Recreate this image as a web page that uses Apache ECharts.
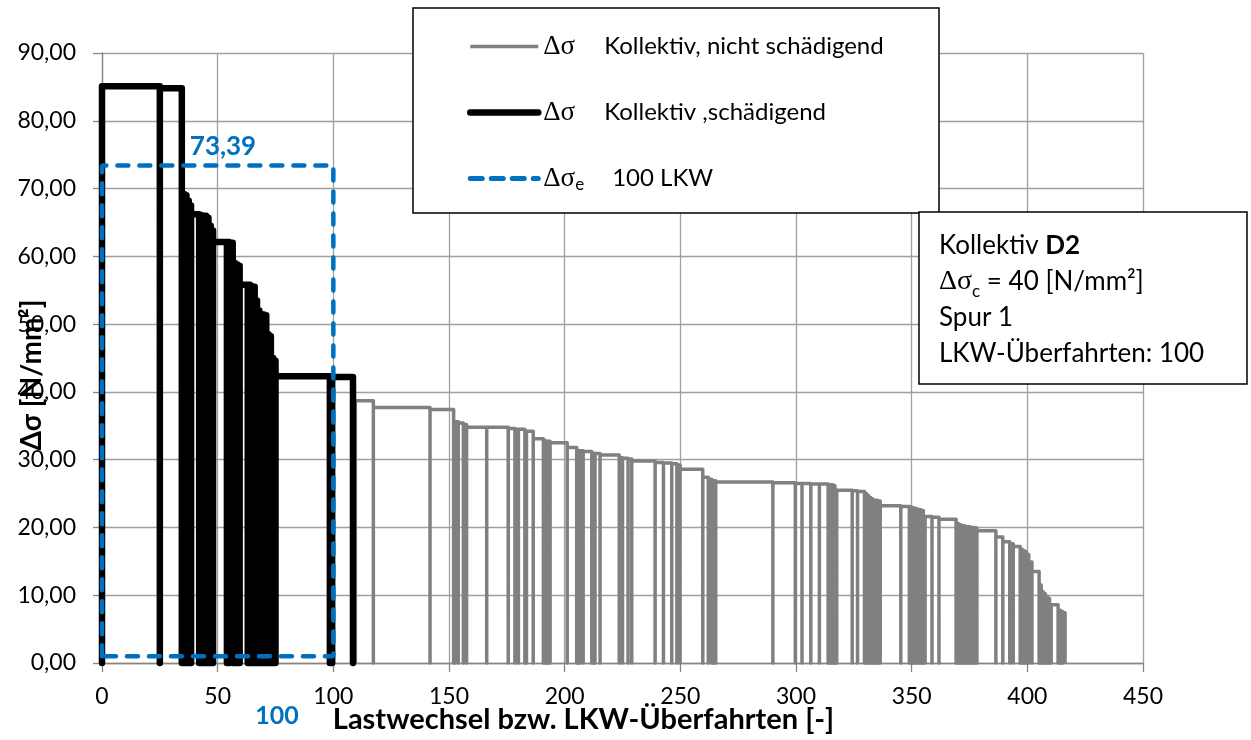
<!DOCTYPE html>
<html>
<head>
<meta charset="utf-8">
<script src="https://cdn.jsdelivr.net/npm/echarts@6/dist/echarts.min.js"></script>
<style>
html,body{margin:0;padding:0;background:#fff;}
#main{width:1251px;height:740px;}
</style>
</head>
<body>
<div id="main"></div>
<script>
// ---- Data ----
// Black collective ("schädigend"): cycle edges along x and Δσ value of each cycle
const blackEdges = [0, 25, 34.5, 35.5, 36.5, 37.5, 38.5, 42, 43, 44, 45, 46, 47, 48, 54, 55, 56.5, 57.5, 58.5, 59.5,
  63, 64, 65, 66, 67, 68, 69, 70, 71, 72, 73, 74, 75, 98.5, 99.5, 108.5];
const blackValues = [85.1, 84.8, 69.2, 69.0, 68.2, 67.5, 66.2, 66.1, 66.0, 66.0, 65.7, 64.5, 63.8, 62.1, 62.1, 62.0, 59.0, 58.8, 58.6,
  55.8, 55.8, 55.6, 55.5, 53.5, 52.0, 51.5, 51.4, 51.3, 48.5, 48.2, 45.0, 44.6, 42.3, 42.2, 42.2];

// Grey collective ("nicht schädigend")
const greyEdges = [109.5, 117.3, 141.8, 152, 152.6, 154, 156.2, 157.6, 166.3, 175.6, 178.5, 180, 182.8, 183.5, 186.4,
  190.8, 191.2, 191.9, 192.6, 193.7, 201.1, 205.2, 205.9, 206.7, 208, 211.7, 212.4, 213.1, 215.3, 223.6, 225, 227.4,
  229, 239.1, 242.7, 246.3, 248.5, 249.9, 259.7, 262.1, 263.6, 264.3, 265.3, 290, 299.7, 302.6, 306.4, 310.1, 313.9,
  314.9, 315.9, 316.8, 317.6, 324.3, 326.6, 329.6, 330.5, 331.4, 332.3, 333.3, 334.3, 335.3, 336.4, 345.3, 349, 350,
  351, 352, 353, 354, 355, 355.8, 358.8, 361.8, 369.2, 370.2, 371.2, 372.2, 373.2, 374.2, 375.2, 376.2, 377.2, 378.2,
  386.4, 389.4, 392.4, 393.9, 396.9, 397.8, 398.7, 399.6, 400.6, 402, 405.1, 406, 406.9, 407.8, 408.7, 409.6, 410.3,
  413.3, 414.3, 415.3, 416.3];
const greyValues = [38.7, 37.7, 37.4, 35.7, 35.6, 35.4, 35.2, 34.8, 34.8, 34.6, 34.5, 34.5, 34.4, 34.2, 33.1, 33.0,
  32.9, 32.8, 32.7, 32.5, 31.8, 31.5, 31.4, 31.3, 31.2, 31.1, 31.0, 30.9, 30.7, 30.3, 30.2, 30.1, 29.8, 29.6, 29.5,
  29.4, 29.2, 28.6, 27.4, 27.1, 27.0, 26.9, 26.7, 26.6, 26.5, 26.5, 26.4, 26.4, 26.3, 26.3, 26.2, 26.0, 25.5, 25.4,
  25.3, 25.0, 24.7, 24.4, 24.2, 24.0, 24.0, 23.9, 23.2, 23.1, 23.0, 22.9, 22.8, 22.7, 22.6, 22.5, 22.3, 21.6, 21.5,
  21.2, 20.6, 20.4, 20.3, 20.2, 20.1, 20.1, 20.0, 20.0, 19.9, 19.5, 18.6, 17.9, 17.6, 17.2, 16.8, 16.6, 16.4, 16.0,
  14.9, 13.5, 11.5, 10.5, 10.2, 9.8, 9.5, 9.0, 8.6, 7.8, 7.6, 7.4];

// Equivalent stress range box (Δσe over 100 LKW)
const deltaSigmaE = 73.39;
const lkwCount = 100;
const boxBase = 1.0;

const seriesNames = ['Δσ Kollektiv, nicht schädigend', 'Δσ Kollektiv ,schädigend', 'Δσe 100 LKW'];

// ---- Build polylines (each cycle drawn down to zero) ----
function cycles(edges, values) {
  const pts = [];
  for (let i = 0; i < values.length && i + 1 < edges.length; i++) {
    pts.push([edges[i], 0], [edges[i], values[i]], [edges[i + 1], values[i]], [edges[i + 1], 0]);
  }
  return pts;
}
const greyData = cycles(greyEdges, greyValues);
const blackData = cycles(blackEdges, blackValues);
const blueData = [[0, boxBase], [0, deltaSigmaE], [lkwCount, deltaSigmaE], [lkwCount, boxBase], [0, boxBase]];

const fmt = v => v.toFixed(2).replace('.', ',');
const FONT = 'Lato';
const SERIF = 'Liberation Serif';

const chart = echarts.init(document.getElementById('main'), null, {renderer: 'canvas'});

const legendText = {};
legendText[seriesNames[0]] = '{d|Δσ}{t|Kollektiv, nicht schädigend}';
legendText[seriesNames[1]] = '{d|Δσ}{t|Kollektiv ,schädigend}';
legendText[seriesNames[2]] = '{dd|Δσ}{sub|e}{t|100 LKW}';

chart.setOption({
  animation: false,
  backgroundColor: '#fff',
  grid: {left: 102, right: 108, top: 53, bottom: 77, containLabel: false, outerBoundsMode: 'none'},
  xAxis: {
    type: 'value', min: 0, max: 450, interval: 50,
    name: 'Lastwechsel bzw. LKW-Überfahrten [-]',
    nameLocation: 'middle', nameGap: 42, nameMoveOverlap: false,
    nameTextStyle: {fontFamily: FONT, fontWeight: 'bold', fontSize: 29, color: '#000', padding: [0, 78, 0, 0]},
    axisLine: {lineStyle: {color: '#868686', width: 1.3}},
    axisTick: {show: true, length: 9, lineStyle: {color: '#868686', width: 1.3}},
    splitLine: {show: true, lineStyle: {color: '#a0a0a0', width: 1.3}},
    axisLabel: {fontFamily: FONT, fontSize: 23, color: '#000', margin: 22}
  },
  yAxis: {
    type: 'value', min: 0, max: 90, interval: 10,
    name: 'Δσ [N/mm²]',
    nameLocation: 'middle', nameGap: 56, nameRotate: 90, nameMoveOverlap: false,
    nameTextStyle: {fontFamily: FONT, fontWeight: 'bold', fontSize: 28, color: '#000', padding: [0, 34, 0, 0]},
    axisLine: {show: true, lineStyle: {color: '#868686', width: 1.3}},
    axisTick: {show: true, length: 9, lineStyle: {color: '#868686', width: 1.3}},
    splitLine: {show: true, lineStyle: {color: '#a0a0a0', width: 1.3}},
    axisLabel: {fontFamily: FONT, fontSize: 23, color: '#000', margin: 26, formatter: fmt}
  },
  legend: {
    left: 462, top: 28, orient: 'vertical', itemWidth: 68, itemHeight: 14, itemGap: 39,
    selectedMode: false, z: 6,
    itemStyle: {opacity: 0},
    data: [
      {name: seriesNames[0], itemStyle: {opacity: 0}, lineStyle: {width: 3.5, color: '#808080'}},
      {name: seriesNames[1], itemStyle: {opacity: 0}, lineStyle: {width: 6.5, color: '#000', cap: 'round'}},
      {name: seriesNames[2], itemStyle: {opacity: 0}, lineStyle: {width: 5, color: '#0070C0', type: [12, 9], cap: 'round'}}
    ],
    formatter: n => legendText[n],
    textStyle: {
      fontFamily: FONT, fontSize: 24, color: '#000',
      rich: {
        d: {fontFamily: SERIF, fontSize: 27, color: '#000', width: 61, lineHeight: 30},
        dd: {fontFamily: SERIF, fontSize: 27, color: '#000', lineHeight: 30},
        sub: {fontFamily: FONT, fontSize: 17, color: '#000', width: 37, lineHeight: 10, verticalAlign: 'bottom'},
        t: {fontFamily: FONT, fontSize: 24, color: '#000', lineHeight: 30}
      }
    }
  },
  graphic: [
    {type: 'rect', z: 5, shape: {x: 413, y: 8, width: 526, height: 205},
      style: {fill: '#fff', stroke: '#000', lineWidth: 1.5}},
    {type: 'rect', z: 5, shape: {x: 919, y: 212, width: 328, height: 172},
      style: {fill: '#fff', stroke: '#000', lineWidth: 1.5}},
    {type: 'text', z: 6, x: 939, y: 228, style: {
      text: '{n|Kollektiv }{b|D2}\n{d|Δσ}{sub|c}{n| = 40 [N/mm²]}\n{n|Spur 1}\n{n|LKW-Überfahrten: 100}',
      fill: '#000',
      rich: {
        n: {fontFamily: FONT, fontSize: 26, lineHeight: 36, fill: '#000'},
        b: {fontFamily: FONT, fontSize: 26, fontWeight: 'bold', lineHeight: 36, fill: '#000'},
        d: {fontFamily: SERIF, fontSize: 28, lineHeight: 36, fill: '#000'},
        sub: {fontFamily: FONT, fontSize: 17, lineHeight: 14, verticalAlign: 'bottom', fill: '#000'}
      }
    }},
    {type: 'text', z: 6, x: 223, y: 147, style: {
      text: fmt(deltaSigmaE), fontFamily: FONT, fontSize: 26, fontWeight: 'bold', fill: '#0070C0',
      align: 'center', verticalAlign: 'middle'}},
    {type: 'text', z: 6, x: 277, y: 716, style: {
      text: String(lkwCount), fontFamily: FONT, fontSize: 25, fontWeight: 'bold', fill: '#0070C0',
      align: 'center', verticalAlign: 'middle'}}
  ],
  series: [
    {name: seriesNames[0], type: 'line', data: greyData, symbol: 'none', showSymbol: false, clip: false, z: 2,
      lineStyle: {color: '#808080', width: 3.5, join: 'round'}, itemStyle: {color: '#808080'}},
    {name: seriesNames[1], type: 'line', data: blackData, symbol: 'none', showSymbol: false, clip: false, z: 3,
      lineStyle: {color: '#000', width: 6.5, join: 'round', cap: 'round'}, itemStyle: {color: '#000'}},
    {name: seriesNames[2], type: 'line', data: blueData, symbol: 'none', showSymbol: false, clip: false, z: 4,
      lineStyle: {color: '#0070C0', width: 4.5, type: [11, 11], cap: 'round'}, itemStyle: {color: '#0070C0'}}
  ]
});
</script>
</body>
</html>
